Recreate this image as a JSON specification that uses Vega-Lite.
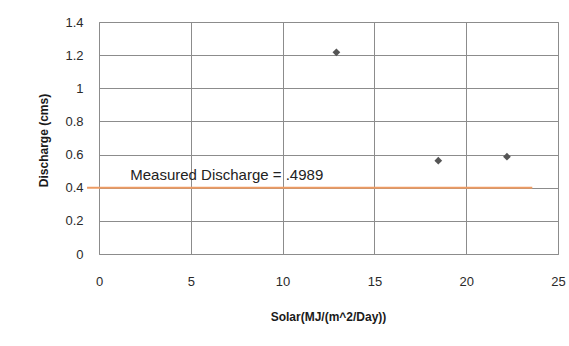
{
  "$schema": "https://vega.github.io/schema/vega-lite/v6.json",
  "width": 459,
  "height": 232,
  "autosize": {"type": "none"},
  "padding": {"left": 99, "top": 22, "right": 11, "bottom": 92},
  "background": "white",
  "config": {
    "font": "Liberation Sans",
    "view": {"stroke": "#8c8c8c", "strokeWidth": 1},
    "axis": {
      "grid": true,
      "gridColor": "#8c8c8c",
      "gridWidth": 1,
      "gridOpacity": 1,
      "domain": false,
      "ticks": false,
      "labelOverlap": false,
      "labelFlush": false,
      "labelFont": "Liberation Sans",
      "labelFontSize": 13,
      "labelColor": "#2a2a2a",
      "titleFont": "Liberation Sans",
      "titleFontSize": 12,
      "titleFontWeight": "bold",
      "titleColor": "#1a1a1a"
    }
  },
  "encoding": {
    "x": {
      "field": "solar",
      "type": "quantitative",
      "scale": {"domain": [0, 25], "nice": false, "zero": false},
      "axis": {
        "values": [0, 5, 10, 15, 20, 25],
        "labelPadding": 21,
        "title": "Solar(MJ/(m^2/Day))",
        "titleX": 229,
        "titleY": 62,
        "titleBaseline": "middle"
      }
    },
    "y": {
      "field": "discharge",
      "type": "quantitative",
      "scale": {"domain": [0, 1.4], "nice": false, "zero": false},
      "axis": {
        "values": [0, 0.2, 0.4, 0.6, 0.8, 1, 1.2, 1.4],
        "tickCount": 8,
        "labelExpr": "toString(datum.value)",
        "labelPadding": 16,
        "title": "Discharge (cms)",
        "titleX": -56,
        "titleY": 118,
        "titleBaseline": "middle"
      }
    }
  },
  "layer": [
    {
      "data": {
        "values": [
          {"solar": 12.93, "discharge": 1.217},
          {"solar": 18.48, "discharge": 0.563},
          {"solar": 22.22, "discharge": 0.587}
        ]
      },
      "mark": {"type": "point", "shape": "diamond", "filled": true, "size": 60, "color": "#555555", "opacity": 1}
    },
    {
      "data": {"values": [{"solar": -0.65, "solar_end": 23.6, "discharge": 0.4}]},
      "mark": {"type": "rule", "color": "#ED9B63", "strokeWidth": 2, "clip": false},
      "encoding": {
        "x2": {"field": "solar_end"}
      }
    },
    {
      "data": {"values": [{"solar": 1.7, "discharge": 0.477, "label": "Measured Discharge = .4989"}]},
      "mark": {"type": "text", "align": "left", "baseline": "middle", "font": "Liberation Sans", "fontSize": 15, "color": "#222222"},
      "encoding": {
        "text": {"field": "label"}
      }
    }
  ]
}
